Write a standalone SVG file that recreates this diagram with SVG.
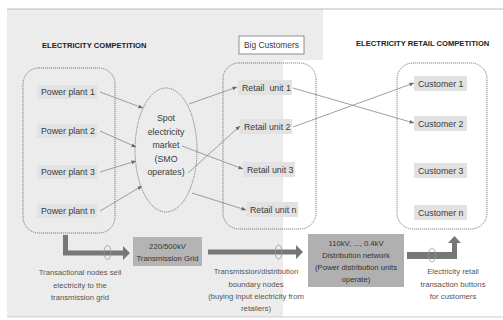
<svg xmlns="http://www.w3.org/2000/svg" width="503" height="320" viewBox="0 0 503 320">
<defs>
<marker id="ah" markerWidth="5" markerHeight="5" refX="4.5" refY="2.5" orient="auto" markerUnits="userSpaceOnUse">
<path d="M0,0.6 L4.5,2.5 L0,4.4 Z" fill="#666"/>
</marker>
<style>
.t{font-family:"Liberation Sans",Arial,sans-serif;fill:#3a3a3a;font-size:8.8px}
.c{font-family:"Liberation Sans",Arial,sans-serif;fill:#555;font-size:7.7px;text-anchor:middle}
.b{font-family:"Liberation Sans",Arial,sans-serif;fill:#222;font-size:7.6px;font-weight:bold}
.bx{font-family:"Liberation Sans",Arial,sans-serif;fill:#333;font-size:7.7px;text-anchor:middle}
.lbl{fill:#e2e2e2}
.dot{fill:none;stroke:#666;stroke-width:0.8;stroke-dasharray:1.2 0.8}
.ln{fill:none;stroke:#888;stroke-width:0.8;marker-end:url(#ah)}
.big{fill:#777}
.ov{fill:none;stroke:#999;stroke-width:0.8}
</style>
</defs>
<rect width="503" height="320" fill="#fff"/>
<path d="M7,9 H323 V60 H283 V317 H7 Z" fill="#ececec"/>
<line x1="7" y1="9" x2="503" y2="9" stroke="#bbb" stroke-width="1"/>
<line x1="7" y1="317" x2="503" y2="317" stroke="#ccc" stroke-width="1"/>

<text class="b" x="42" y="48">ELECTRICITY COMPETITION</text>
<text class="b" x="356" y="46">ELECTRICITY RETAIL COMPETITION</text>

<g id="big-customers">
<rect x="239" y="36" width="65" height="18" fill="#fff" stroke="#777" stroke-width="0.8"/>
<text class="t" x="271.5" y="48" text-anchor="middle" style="font-size:8.4px">Big Customers</text>
</g>

<g id="power-plants">
<rect class="dot" x="23" y="68" width="92" height="165" rx="16"/>
<g id="pp1"><rect class="lbl" x="37" y="85" width="60" height="14"/><text class="t" x="41" y="95">Power plant 1</text></g>
<g id="pp2"><rect class="lbl" x="37" y="124" width="60" height="14"/><text class="t" x="41" y="134">Power plant 2</text></g>
<g id="pp3"><rect class="lbl" x="37" y="165" width="60" height="14"/><text class="t" x="41" y="175">Power plant 3</text></g>
<g id="ppn"><rect class="lbl" x="37" y="204" width="60" height="14"/><text class="t" x="41" y="214">Power plant n</text></g>
</g>

<g id="spot-market">
<ellipse cx="166" cy="150" rx="31" ry="62" fill="none" stroke="#666" stroke-width="0.8" stroke-dasharray="1.2 0.8"/>
<text class="t" text-anchor="middle" x="166" y="121">Spot</text>
<text class="t" text-anchor="middle" x="166" y="134.5">electricity</text>
<text class="t" text-anchor="middle" x="166" y="148">market</text>
<text class="t" text-anchor="middle" x="166" y="161.5">(SMO</text>
<text class="t" text-anchor="middle" x="166" y="175">operates)</text>
</g>

<g id="retail-units">
<rect class="dot" x="223" y="63" width="93" height="166" rx="16"/>
<g id="r1"><rect class="lbl" x="238" y="80" width="54" height="15"/><text class="t" x="242" y="91" xml:space="preserve">Retail  unit 1</text></g>
<g id="r2"><rect class="lbl" x="240" y="119" width="52" height="15"/><text class="t" x="244" y="130">Retail unit 2</text></g>
<g id="r3"><rect class="lbl" x="243" y="162" width="52" height="15"/><text class="t" x="247" y="173">Retail unit 3</text></g>
<g id="rn"><rect class="lbl" x="246" y="202" width="52" height="15"/><text class="t" x="250" y="213">Retail unit n</text></g>
</g>

<g id="customers">
<rect class="dot" x="397" y="63" width="90" height="166" rx="16"/>
<g id="c1"><rect class="lbl" x="414" y="76" width="53" height="15"/><text class="t" x="418" y="86.5">Customer 1</text></g>
<g id="c2"><rect class="lbl" x="414" y="116" width="53" height="15"/><text class="t" x="418" y="126.5">Customer 2</text></g>
<g id="c3"><rect class="lbl" x="414" y="163" width="53" height="15"/><text class="t" x="418" y="173.5">Customer 3</text></g>
<g id="cn"><rect class="lbl" x="414" y="205" width="53" height="15"/><text class="t" x="418" y="215.5">Customer n</text></g>
</g>

<g id="connectors">
<line class="ln" x1="100" y1="92" x2="143" y2="108"/>
<line class="ln" x1="100" y1="131" x2="136" y2="147"/>
<line class="ln" x1="100" y1="172" x2="136" y2="161"/>
<line class="ln" x1="100" y1="211" x2="142" y2="186"/>
<line class="ln" x1="189" y1="104" x2="237" y2="87"/>
<line class="ln" x1="188" y1="173" x2="240" y2="126"/>
<line class="ln" x1="182" y1="146" x2="243" y2="169"/>
<line class="ln" x1="192" y1="193" x2="246" y2="210"/>
<line class="ln" x1="293" y1="88" x2="414" y2="123"/>
<line class="ln" x1="293" y1="127" x2="414" y2="83"/>
</g>

<g id="flow">
<path class="big" d="M63,235 H68 V250.5 H123 V246 L130,253 L123,260 V255.5 H63 Z"/>
<ellipse class="ov" cx="107.5" cy="252.5" rx="3.5" ry="7"/>
<g id="grid"><rect x="133" y="237" width="69" height="29" fill="#b4b4b4"/>
<text class="bx" x="167.5" y="249">220/500kV</text>
<text class="bx" x="167.5" y="261">Transmission Grid</text></g>
<text class="c" x="80" y="275">Transactional nodes sell</text>
<text class="c" x="80" y="287.5">electricity to the</text>
<text class="c" x="80" y="300">transmission grid</text>

<path class="big" d="M208,249.5 H296 V245 L303,252 L296,259 V254.5 H208 Z"/>
<ellipse class="ov" cx="278.5" cy="252" rx="3.5" ry="7"/>
<text class="c" x="256" y="274">Transmission/distribution</text>
<text class="c" x="256" y="286.5">boundary nodes</text>
<text class="c" x="256" y="299">(buying input electricity from</text>
<text class="c" x="256" y="311">retailers)</text>

<g id="distribution"><rect x="308" y="234" width="96" height="53" fill="#b0b0b0"/>
<text class="bx" x="356" y="246">110kV, ..., 0.4kV</text>
<text class="bx" x="356" y="257.5">Distribution network</text>
<text class="bx" x="356" y="270">(Power distribution units</text>
<text class="bx" x="356" y="282">operate)</text></g>

<path class="big" d="M407,252 H452 V243 H448 L454.5,236 L461,243 H457 V259 H407 Z"/>
<ellipse class="ov" cx="432" cy="255" rx="3.5" ry="7"/>
<text class="c" x="453" y="274">Electricity retail</text>
<text class="c" x="453" y="286.5">transaction buttons</text>
<text class="c" x="453" y="299">for customers</text>
</g>
</svg>
